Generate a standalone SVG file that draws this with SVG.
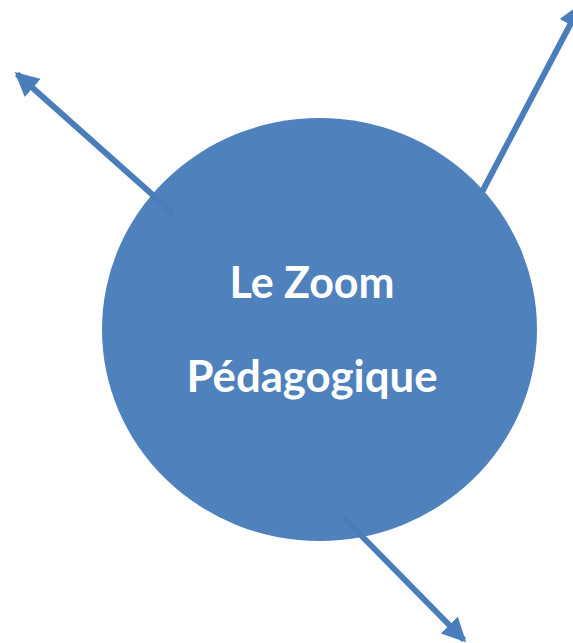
<svg xmlns="http://www.w3.org/2000/svg" width="573" height="643" viewBox="0 0 573 643">
<style>
.conn{stroke:#4A7EBB;stroke-width:6;fill:none;marker-end:url(#ah)}
.lbl{font-family:Lato,"Open Sans","Liberation Sans",sans-serif;font-weight:bold;fill:#FFFFFF;font-size:43px;text-anchor:middle}
</style>
<defs>
<marker id="ah" markerWidth="4" markerHeight="4" refX="3.5" refY="2" orient="auto" markerUnits="strokeWidth">
<path d="M0,0 L4,2 L0,4 Z" fill="#4A7EBB"/>
</marker>
</defs>
<rect width="573" height="643" fill="#FFFFFF"/>
<g id="center">
<ellipse cx="319.5" cy="329.5" rx="217.5" ry="211.5" fill="#4F81BD"/>
<text class="lbl" x="312" y="298" textLength="165" lengthAdjust="spacingAndGlyphs">Le Zoom</text>
<text class="lbl" x="312" y="392" textLength="251" lengthAdjust="spacingAndGlyphs">Pédagogique</text>
</g>
<g id="connectors">
<line class="conn" x1="173" y1="213" x2="17" y2="74"/>
<line class="conn" x1="482" y1="192" x2="580" y2="6"/>
<line class="conn" x1="343" y1="517" x2="464" y2="640"/>
</g>
</svg>
